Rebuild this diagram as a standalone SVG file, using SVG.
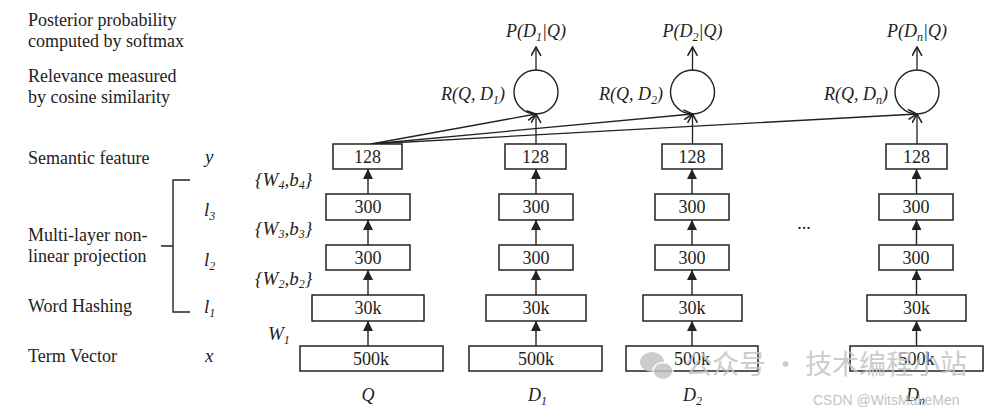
<svg xmlns="http://www.w3.org/2000/svg" width="998" height="409" viewBox="0 0 998 409">
<defs>
<marker id="tri" viewBox="0 0 10 10" refX="10" refY="5" markerWidth="10" markerHeight="10" markerUnits="userSpaceOnUse" orient="auto">
<path d="M0,0 L10,5 L0,10 Z" fill="#222"/>
</marker>
<marker id="open" viewBox="0 0 10 10" refX="9" refY="5" markerWidth="11" markerHeight="11" markerUnits="userSpaceOnUse" orient="auto">
<path d="M1,0.5 L9,5 L1,9.5" fill="none" stroke="#222" stroke-width="1.4"/>
</marker>
</defs>
<style>
text{font-family:"Liberation Serif","Times New Roman",serif;fill:#222}
.lab{font-size:18px}
.num{font-size:18px;text-anchor:middle}
.it{font-style:italic;font-size:18px}
.wb{font-style:italic;font-size:19px}
.sub{font-size:12px}
.box{fill:#fff;stroke:#222;stroke-width:1.5}
.ln{stroke:#222;stroke-width:1.4;fill:none}
.arr{stroke:#222;stroke-width:1.4;marker-end:url(#tri)}
.conn{stroke:#222;stroke-width:1.3;fill:none;marker-end:url(#open)}
.wm{font-family:"Noto Sans CJK SC","Liberation Sans",sans-serif;fill:#c4c4c4}
</style>
<rect width="998" height="409" fill="#fff"/>

<g id="left-labels">
<text class="lab" x="28" y="26">Posterior probability</text>
<text class="lab" x="28" y="47">computed by softmax</text>
<text class="lab" x="28" y="82">Relevance measured</text>
<text class="lab" x="28" y="103">by cosine similarity</text>
<text class="lab" x="28" y="164">Semantic feature</text>
<text class="lab" x="28" y="241">Multi-layer non-</text>
<text class="lab" x="28" y="262">linear projection</text>
<text class="lab" x="28" y="312">Word Hashing</text>
<text class="lab" x="28" y="362">Term Vector</text>
<path class="ln" d="M190,180 H173 V312 H190 M161,246 H173"/>
<text class="wb" x="205" y="163">y</text>
<text class="wb" x="204" y="216">l<tspan class="sub" dy="4">3</tspan></text>
<text class="wb" x="204" y="266">l<tspan class="sub" dy="4">2</tspan></text>
<text class="wb" x="204" y="313">l<tspan class="sub" dy="4">1</tspan></text>
<text class="wb" x="205" y="362">x</text>
<text class="wb" x="255" y="186">{W<tspan class="sub" dy="3">4</tspan><tspan dy="-3">,b</tspan><tspan class="sub" dy="3">4</tspan><tspan dy="-3">}</tspan></text>
<text class="wb" x="255" y="235">{W<tspan class="sub" dy="3">3</tspan><tspan dy="-3">,b</tspan><tspan class="sub" dy="3">3</tspan><tspan dy="-3">}</tspan></text>
<text class="wb" x="255" y="285">{W<tspan class="sub" dy="3">2</tspan><tspan dy="-3">,b</tspan><tspan class="sub" dy="3">2</tspan><tspan dy="-3">}</tspan></text>
<text class="wb" x="268" y="340">W<tspan class="sub" dy="4">1</tspan></text>
</g>

<g id="connectors">
<line class="arr" x1="368" y1="346" x2="368" y2="321"/>
<line class="arr" x1="368" y1="295" x2="368" y2="270"/>
<line class="arr" x1="368" y1="245" x2="368" y2="220"/>
<line class="arr" x1="368" y1="194" x2="368" y2="169"/>
<line class="arr" x1="536" y1="346" x2="536" y2="321"/>
<line class="arr" x1="536" y1="295" x2="536" y2="270"/>
<line class="arr" x1="536" y1="245" x2="536" y2="220"/>
<line class="arr" x1="536" y1="194" x2="536" y2="169"/>
<line class="arr" x1="692" y1="346" x2="692" y2="321"/>
<line class="arr" x1="692" y1="295" x2="692" y2="270"/>
<line class="arr" x1="692" y1="245" x2="692" y2="220"/>
<line class="arr" x1="692" y1="194" x2="692" y2="169"/>
<line class="arr" x1="916.5" y1="346" x2="916.5" y2="321"/>
<line class="arr" x1="916.5" y1="295" x2="916.5" y2="270"/>
<line class="arr" x1="916.5" y1="245" x2="916.5" y2="220"/>
<line class="arr" x1="916.5" y1="194" x2="916.5" y2="169"/>
<line class="conn" x1="536" y1="144" x2="536" y2="114"/>
<line class="conn" x1="692.5" y1="144" x2="692.5" y2="114"/>
<line class="conn" x1="917" y1="144" x2="917" y2="114"/>
<line class="conn" x1="371" y1="144" x2="536" y2="114"/>
<line class="conn" x1="371" y1="144" x2="692.5" y2="114"/>
<line class="conn" x1="371" y1="144" x2="917" y2="114"/>
<line class="conn" x1="536" y1="70" x2="536" y2="47"/>
<line class="conn" x1="692.5" y1="70" x2="692.5" y2="47"/>
<line class="conn" x1="917" y1="70" x2="917" y2="47"/>
</g>

<g id="col-Q">
<rect class="box" x="333" y="144" width="69" height="25"/><text class="num" x="367.5" y="163">128</text>
<rect class="box" x="326" y="194" width="84" height="26"/><text class="num" x="368" y="213">300</text>
<rect class="box" x="326" y="245" width="84" height="25"/><text class="num" x="368" y="264">300</text>
<rect class="box" x="312" y="295" width="112" height="26"/><text class="num" x="368" y="314">30k</text>
<rect class="box" x="300" y="346" width="143" height="25"/><text class="num" x="371" y="365">500k</text>
<text class="it" x="368" y="401" text-anchor="middle">Q</text>
</g>

<g id="col-D1">
<rect class="box" x="505" y="144" width="61" height="25"/><text class="num" x="535.5" y="163">128</text>
<rect class="box" x="499" y="194" width="74" height="26"/><text class="num" x="536" y="213">300</text>
<rect class="box" x="499" y="245" width="74" height="25"/><text class="num" x="536" y="264">300</text>
<rect class="box" x="486" y="295" width="100" height="26"/><text class="num" x="536" y="314">30k</text>
<rect class="box" x="469" y="346" width="133" height="25"/><text class="num" x="536" y="365">500k</text>
<text class="it" x="528" y="401">D<tspan class="sub" dy="4">1</tspan></text>
</g>

<g id="col-D2">
<rect class="box" x="662" y="144" width="60" height="25"/><text class="num" x="692" y="163">128</text>
<rect class="box" x="655" y="194" width="74" height="26"/><text class="num" x="692" y="213">300</text>
<rect class="box" x="655" y="245" width="74" height="25"/><text class="num" x="692" y="264">300</text>
<rect class="box" x="643" y="295" width="99" height="26"/><text class="num" x="692" y="314">30k</text>
<rect class="box" x="626" y="346" width="132" height="25"/><text class="num" x="692" y="365">500k</text>
<text class="it" x="683" y="401">D<tspan class="sub" dy="4">2</tspan></text>
</g>

<g id="col-Dn">
<rect class="box" x="886" y="144" width="61" height="25"/><text class="num" x="916.5" y="163">128</text>
<rect class="box" x="879" y="194" width="74" height="26"/><text class="num" x="916" y="213">300</text>
<rect class="box" x="879" y="245" width="74" height="25"/><text class="num" x="916" y="264">300</text>
<rect class="box" x="867" y="295" width="99" height="26"/><text class="num" x="916.5" y="314">30k</text>
<rect class="box" x="850" y="346" width="133" height="25"/><text class="num" x="916.5" y="365">500k</text>
<text class="it" x="906" y="401">D<tspan class="sub" dy="4">n</tspan></text>
</g>

<g id="ellipsis"><text class="lab" x="804" y="229" text-anchor="middle">...</text></g>

<g id="rel-D1">
<circle class="ln" cx="536" cy="92" r="22"/>
<text class="it" x="505" y="100" text-anchor="end">R(Q, D<tspan class="sub" dy="4">1</tspan><tspan dy="-4">)</tspan></text>
<text class="it" x="536" y="37" text-anchor="middle">P(D<tspan class="sub" dy="4">1</tspan><tspan dy="-4">|Q)</tspan></text>
</g>
<g id="rel-D2">
<circle class="ln" cx="692.5" cy="92" r="22"/>
<text class="it" x="663" y="100" text-anchor="end">R(Q, D<tspan class="sub" dy="4">2</tspan><tspan dy="-4">)</tspan></text>
<text class="it" x="692.5" y="37" text-anchor="middle">P(D<tspan class="sub" dy="4">2</tspan><tspan dy="-4">|Q)</tspan></text>
</g>
<g id="rel-Dn">
<circle class="ln" cx="917" cy="92" r="22"/>
<text class="it" x="888" y="100" text-anchor="end">R(Q, D<tspan class="sub" dy="4">n</tspan><tspan dy="-4">)</tspan></text>
<text class="it" x="917" y="37" text-anchor="middle">P(D<tspan class="sub" dy="4">n</tspan><tspan dy="-4">|Q)</tspan></text>
</g>

<g id="watermark" opacity="0.85">
<ellipse cx="652" cy="362" rx="12" ry="10" fill="#c4c4c4"/>
<ellipse cx="663" cy="371" rx="10" ry="8.5" fill="#c4c4c4" stroke="#fff" stroke-width="1.5"/>
<text class="wm" x="685" y="374" font-size="27">公众号 · 技术编程小站</text>
<text x="813" y="405" font-size="14" style="font-family:'Liberation Sans',Arial,sans-serif;fill:#b8b8b8">CSDN @WitsMakeMen</text>
</g>
</svg>
